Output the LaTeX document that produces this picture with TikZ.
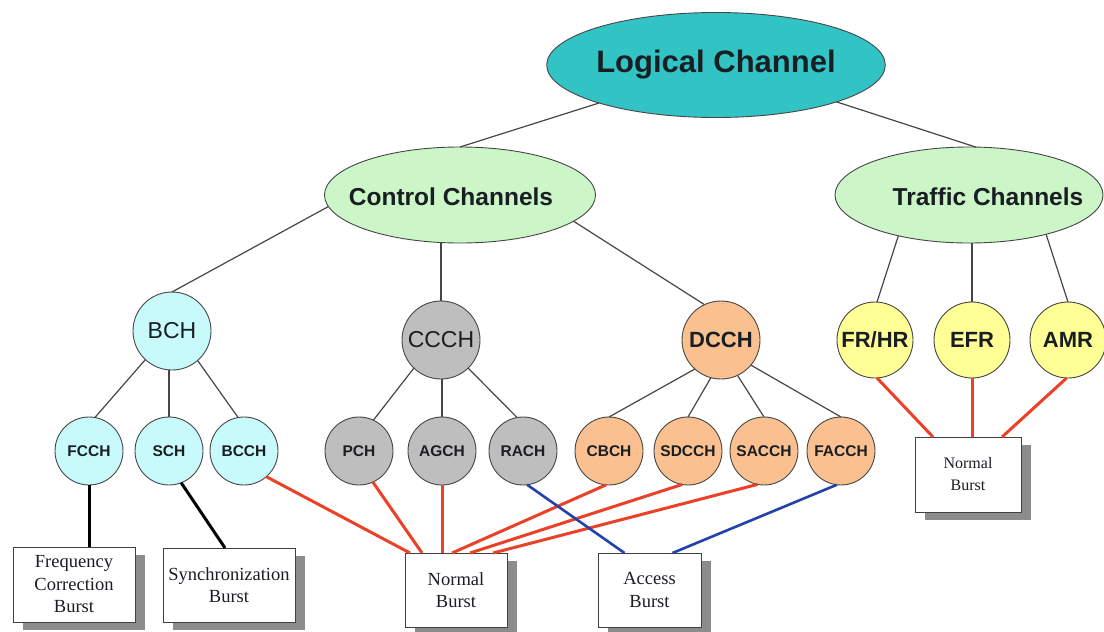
\documentclass[tikz,border=0pt]{standalone}
\usepackage{fontspec}
\setmainfont{Liberation Serif}
\setsansfont{Liberation Sans}
\usetikzlibrary{shapes.geometric,shadows,calc}

\definecolor{ink}{RGB}{25,30,35}
\definecolor{edgegray}{RGB}{70,70,70}
\definecolor{rootfill}{RGB}{50,196,196}
\definecolor{groupfill}{RGB}{204,245,200}
\definecolor{bchfill}{RGB}{200,250,252}
\definecolor{ccchfill}{RGB}{190,190,190}
\definecolor{dcchfill}{RGB}{250,192,144}
\definecolor{tchfill}{RGB}{255,255,150}
\definecolor{burstred}{RGB}{235,65,40}
\definecolor{burstblue}{RGB}{35,65,170}

\newcommand{\chfont}[1]{\fontsize{#1}{#1}\selectfont}

\begin{document}
\begin{tikzpicture}[x=1pt,y=-1pt,
  every node/.style={outer sep=0pt, inner sep=0pt, text=ink},
  chan/.style={circle, draw=edgegray, line width=0.9pt},
  midchan/.style={chan, minimum size=78pt, font=\sffamily\chfont{23}},
  tchan/.style={chan, minimum size=76pt, fill=tchfill, font=\sffamily\bfseries\chfont{22}},
  subchan/.style={chan, minimum size=68pt, font=\sffamily\bfseries\chfont{15.5}},
  root/.style={ellipse, draw=edgegray, line width=0.9pt, fill=rootfill,
    minimum width=283pt, minimum height=105pt, font=\sffamily\bfseries\chfont{31}},
  group/.style={ellipse, draw=edgegray, line width=0.9pt, fill=groupfill,
    minimum width=271pt, minimum height=96pt},
  grouptext/.style={font=\sffamily\bfseries\chfont{24.5}},
  burst/.style={rectangle, draw=black!75, line width=0.8pt, fill=white, align=center,
    font=\rmfamily\fontsize{18.5}{22.5}\selectfont,
    general shadow={fill=black!45, shadow xshift=10pt, shadow yshift=-8pt}},
  link/.style={draw=edgegray, line width=1.2pt},
  redlink/.style={draw=burstred, line width=3pt},
  bluelink/.style={draw=burstblue, line width=2.6pt},
  blacklink/.style={draw=black, line width=3pt}
]
\fill[white] (0,0) rectangle (1104,632);
\useasboundingbox (0,0) rectangle (1104,632);

% top level
\node[root] (lc) at (716,65) {Logical Channel};
\node[group] (cc) at (460,195) {};
\node[grouptext] (cctext) at (451,197) {Control Channels};
\node[group, minimum width=268pt] (tc) at (969,195) {};
\node[grouptext] (tctext) at (988,197) {Traffic Channels};

% control channel groups
\node[midchan, fill=bchfill] (bch) at (172,331) {BCH};
\node[midchan, fill=ccchfill] (ccch) at (441,340) {CCCH};
\node[midchan, fill=dcchfill, font=\sffamily\bfseries\chfont{22}] (dcch) at (721,340) {DCCH};

% traffic channels
\node[tchan] (frhr) at (875,340) {FR/HR};
\node[tchan] (efr) at (972,340) {EFR};
\node[tchan] (amr) at (1068,340) {AMR};

% logical sub-channels
\node[subchan, fill=bchfill] (fcch) at (89,451) {FCCH};
\node[subchan, fill=bchfill] (sch) at (169,451) {SCH};
\node[subchan, fill=bchfill] (bcch) at (244,451) {BCCH};
\node[subchan, fill=ccchfill] (pch) at (359,451) {PCH};
\node[subchan, fill=ccchfill] (agch) at (442,451) {AGCH};
\node[subchan, fill=ccchfill] (rach) at (523,451) {RACH};
\node[subchan, fill=dcchfill] (cbch) at (609,451) {CBCH};
\node[subchan, fill=dcchfill] (sdcch) at (688,451) {SDCCH};
\node[subchan, fill=dcchfill] (sacch) at (764,451) {SACCH};
\node[subchan, fill=dcchfill] (facch) at (841,451) {FACCH};

% burst types
\node[burst, minimum width=122pt, minimum height=75pt] (freq) at (74,584.5) {Frequency\\Correction\\Burst};
\node[burst, minimum width=132pt, minimum height=74pt] (sync) at (229,585) {Synchronization\\Burst};
\node[burst, minimum width=102pt, minimum height=74pt] (nb1) at (456,590) {Normal\\Burst};
\node[burst, minimum width=103pt, minimum height=74pt] (ab) at (649.5,590) {Access\\Burst};
\node[burst, minimum width=106pt, minimum height=75pt, font=\rmfamily\fontsize{16}{22}\selectfont] (nb2) at (968,474.5) {Normal\\Burst};

% hierarchy
\draw[link] (lc.198) -- (cc.north);
\draw[link] (lc.343) -- (tc.82);
\draw[link] (cc.185) -- (bch.north);
\draw[link] (cc.south -| ccch.north) -- (ccch.north);
\draw[link] (cc.347) -- (dcch.115);
\draw[link] (tc.210) -- (frhr.87);
\draw[link] (tc.south -| efr.north) -- (efr.north);
\draw[link] (tc.333) -- (amr.north);
\draw[link] (bch.227) -- (fcch.80);
\draw[link] (bch.south -| sch.north) -- (sch.north);
\draw[link] (bch.311) -- (bcch.100);
\draw[link] (ccch.226) -- (pch.65);
\draw[link] (ccch.south -| agch.north) -- (agch.north);
\draw[link] (ccch.314) -- (rach.100);
\draw[link] (dcch.228) -- (cbch.north);
\draw[link] (dcch.255) -- (sdcch.north);
\draw[link] (dcch.295) -- (sacch.north);
\draw[link] (dcch.320) -- (facch.north);

% channel to burst mapping
\draw[blacklink] (fcch.south) -- (fcch.south |- freq.north);
\draw[blacklink] (sch.291) -- ($(sync.north)+(-4,0)$);
\draw[redlink] (bcch.311) -- ($(nb1.north)+(-46,0)$);
\draw[redlink] (pch.294) -- ($(nb1.north)+(-34,0)$);
\draw[redlink] (agch.south) -- (agch.south |- nb1.north);
\draw[redlink] (cbch.265) -- ($(nb1.north)+(-4,0)$);
\draw[redlink] (sdcch.260) -- ($(nb1.north)+(14,0)$);
\draw[redlink] (sacch.259) -- ($(nb1.north)+(37,0)$);
\draw[bluelink] (rach.277) -- ($(ab.north)+(-25,0)$);
\draw[bluelink] (facch.263) -- ($(ab.north)+(23,0)$);
\draw[redlink] (frhr.273) -- ($(nb2.north)+(-35,0)$);
\draw[redlink] (efr.south) -- (efr.south |- nb2.north);
\draw[redlink] (amr.268) -- ($(nb2.north)+(34,0)$);
\end{tikzpicture}
\end{document}
